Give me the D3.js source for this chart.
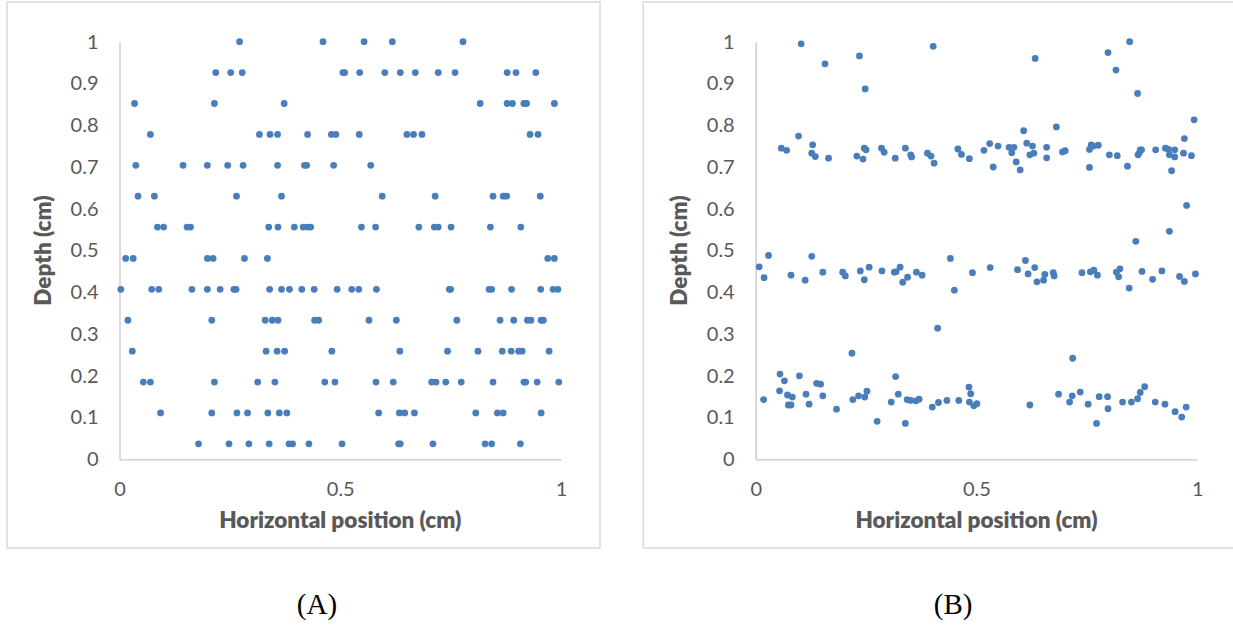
<!DOCTYPE html>
<html>
<head>
<meta charset="utf-8">
<script src="https://cdn.jsdelivr.net/npm/d3@7"></script>
<style>
  html, body { margin: 0; padding: 0; background: #ffffff; }
  svg { display: block; }
  .tick text { font-family: Lato, "Open Sans", sans-serif; font-size: 20px; fill: #595959; }
  .axis-title { font-family: Lato, "Open Sans", sans-serif; font-size: 22.5px; font-weight: 800; fill: #595959; }
  .caption { font-family: "Liberation Serif", "Times New Roman", serif; font-size: 29px; fill: #000; }
</style>
</head>
<body>
<svg id="chart" width="1233" height="626"></svg>
<script>
// ---- Panel A: depth levels and the horizontal positions found at each level ----
const depthLevelsA = [1.000, 0.926, 0.852, 0.778, 0.704, 0.630, 0.556, 0.481, 0.407, 0.333, 0.259, 0.185, 0.111, 0.037];
const positionsA = [
  [0.272, 0.461, 0.554, 0.618, 0.778],
  [0.218, 0.252, 0.278, 0.506, 0.510, 0.544, 0.601, 0.636, 0.670, 0.722, 0.760, 0.878, 0.898, 0.943],
  [0.034, 0.215, 0.373, 0.817, 0.878, 0.890, 0.916, 0.922, 0.985],
  [0.070, 0.317, 0.341, 0.358, 0.426, 0.480, 0.490, 0.543, 0.651, 0.666, 0.685, 0.930, 0.948],
  [0.037, 0.144, 0.199, 0.245, 0.280, 0.358, 0.419, 0.424, 0.485, 0.569],
  [0.042, 0.079, 0.265, 0.367, 0.595, 0.715, 0.846, 0.869, 0.877, 0.953],
  [0.086, 0.100, 0.153, 0.161, 0.338, 0.359, 0.396, 0.416, 0.426, 0.433, 0.548, 0.580, 0.678, 0.713, 0.722, 0.751, 0.840, 0.909],
  [0.014, 0.031, 0.199, 0.212, 0.283, 0.335, 0.970, 0.985],
  [0.003, 0.073, 0.089, 0.164, 0.199, 0.228, 0.259, 0.264, 0.340, 0.367, 0.385, 0.413, 0.441, 0.493, 0.526, 0.542, 0.582, 0.747, 0.750, 0.837, 0.843, 0.888, 0.954, 0.982, 0.993],
  [0.019, 0.209, 0.330, 0.346, 0.359, 0.442, 0.451, 0.565, 0.627, 0.764, 0.862, 0.893, 0.924, 0.932, 0.955, 0.960],
  [0.029, 0.332, 0.357, 0.374, 0.481, 0.635, 0.743, 0.812, 0.867, 0.887, 0.904, 0.912, 0.973],
  [0.054, 0.070, 0.215, 0.313, 0.352, 0.465, 0.488, 0.581, 0.620, 0.707, 0.717, 0.739, 0.774, 0.846, 0.916, 0.920, 0.946, 0.995],
  [0.093, 0.209, 0.266, 0.290, 0.336, 0.362, 0.379, 0.587, 0.634, 0.646, 0.668, 0.807, 0.856, 0.869, 0.955],
  [0.179, 0.248, 0.293, 0.339, 0.384, 0.392, 0.429, 0.504, 0.632, 0.636, 0.710, 0.828, 0.843, 0.908]
];

// ---- Panel B: horizontal position and depth of each point ----
const positionsB = [
  0.103, 0.402, 0.235, 0.157, 0.248,
  0.097, 0.058, 0.070, 0.129, 0.127, 0.135, 0.165, 0.229, 0.243, 0.246, 0.250, 0.285, 0.291, 0.316, 0.339, 0.351, 0.353, 0.389, 0.397, 0.404, 0.458, 0.466, 0.484,
  0.517, 0.530, 0.538, 0.549, 0.574, 0.580, 0.585, 0.590, 0.599, 0.607, 0.614, 0.621, 0.627, 0.630, 0.633, 0.659, 0.659, 0.681, 0.695, 0.701, 0.756, 0.756, 0.760, 0.765, 0.776,
  0.798, 0.801, 0.816, 0.819, 0.842, 0.847, 0.865, 0.866, 0.869, 0.871, 0.874, 0.906, 0.928, 0.935, 0.937, 0.942, 0.949, 0.949, 0.937, 0.969, 0.971, 0.976, 0.987, 0.993, 0.861,
  0.008, 0.029, 0.019, 0.080, 0.112, 0.127, 0.152, 0.197, 0.203, 0.237, 0.246, 0.257, 0.286, 0.314, 0.318, 0.327, 0.333, 0.344, 0.364, 0.377, 0.441, 0.450, 0.491, 0.412, 0.218,
  0.531, 0.593, 0.611, 0.617, 0.632, 0.637, 0.652, 0.655, 0.674, 0.676, 0.739, 0.758, 0.766, 0.774, 0.817, 0.825, 0.822, 0.846, 0.875, 0.899, 0.920, 0.960, 0.971, 0.996, 0.718,
  0.018, 0.055, 0.065, 0.054, 0.072, 0.083, 0.074, 0.080, 0.099, 0.114, 0.121, 0.138, 0.147, 0.152, 0.183, 0.220, 0.233, 0.247, 0.252, 0.275, 0.307, 0.317, 0.323, 0.339,
  0.343, 0.351, 0.363, 0.370, 0.400, 0.414, 0.433, 0.460, 0.483, 0.487, 0.484, 0.494, 0.501,
  0.621, 0.686, 0.711, 0.717, 0.735, 0.753, 0.772, 0.778, 0.797, 0.798, 0.831, 0.851, 0.865, 0.871, 0.881, 0.905, 0.927, 0.950, 0.965, 0.975
];
const depthsB = [
  0.995, 0.989, 0.966, 0.947, 0.887,
  0.774, 0.745, 0.740, 0.753, 0.733, 0.725, 0.721, 0.726, 0.719, 0.745, 0.741, 0.745, 0.735, 0.721, 0.745, 0.729, 0.724, 0.733, 0.726, 0.709, 0.743, 0.730, 0.720,
  0.740, 0.756, 0.700, 0.750, 0.747, 0.734, 0.747, 0.712, 0.693, 0.787, 0.757, 0.729, 0.750, 0.733, 0.960, 0.747, 0.722, 0.796, 0.736, 0.739, 0.742, 0.699, 0.753, 0.750, 0.752,
  0.974, 0.729, 0.932, 0.727, 0.702, 1.000, 0.876, 0.729, 0.734, 0.741, 0.741, 0.741, 0.745, 0.742, 0.729, 0.691, 0.741, 0.724, 0.546, 0.733, 0.768, 0.608, 0.727, 0.813, 0.522,
  0.461, 0.488, 0.435, 0.441, 0.429, 0.486, 0.448, 0.448, 0.439, 0.451, 0.430, 0.460, 0.451, 0.448, 0.449, 0.460, 0.424, 0.436, 0.448, 0.441, 0.481, 0.405, 0.447, 0.314, 0.254,
  0.459, 0.454, 0.476, 0.444, 0.459, 0.425, 0.429, 0.443, 0.447, 0.439, 0.447, 0.449, 0.453, 0.441, 0.448, 0.456, 0.437, 0.410, 0.450, 0.431, 0.451, 0.438, 0.426, 0.444, 0.242,
  0.143, 0.204, 0.188, 0.164, 0.154, 0.149, 0.130, 0.130, 0.200, 0.156, 0.132, 0.182, 0.180, 0.152, 0.120, 0.143, 0.152, 0.149, 0.163, 0.091, 0.137, 0.198, 0.156, 0.086,
  0.143, 0.141, 0.140, 0.144, 0.125, 0.136, 0.141, 0.141, 0.173, 0.157, 0.137, 0.128, 0.133,
  0.130, 0.156, 0.137, 0.152, 0.161, 0.132, 0.086, 0.150, 0.150, 0.121, 0.137, 0.137, 0.145, 0.160, 0.174, 0.137, 0.132, 0.114, 0.101, 0.125
];

const depthTicks = [0, 0.1, 0.2, 0.3, 0.4, 0.5, 0.6, 0.7, 0.8, 0.9, 1];
const positionTicks = [0, 0.5, 1];
const xTitle = "Horizontal position (cm)";
const yTitle = "Depth (cm)";

// Points for each panel as {x, y} records
const pointsA = depthLevelsA.flatMap((d, i) => positionsA[i].map(x => ({ x, y: d })));
const pointsB = positionsB.map((x, i) => ({ x, y: depthsB[i] }));

const svg = d3.select("#chart");
const markerColor = "#4a7ebb";
const axisColor = "#c8c8c8";
const frameColor = "#d9d9d9";

function drawPanel(offsetX, frameWidth, points, caption) {
  const g = svg.append("g").attr("transform", `translate(${offsetX},0)`);

  // chart frame
  g.append("rect")
    .attr("x", 7).attr("y", 2)
    .attr("width", frameWidth).attr("height", 546)
    .attr("fill", "#fff")
    .attr("stroke", frameColor).attr("stroke-width", 1.5);

  const x = d3.scaleLinear().domain([0, 1]).range([119.5, 561]);
  const y = d3.scaleLinear().domain([0, 1]).range([459.3, 41.7]);
  const fmt = d => String(+d.toFixed(1));

  const yAxis = g.append("g")
    .attr("transform", `translate(${x(0)},0)`)
    .call(d3.axisLeft(y).tickValues(depthTicks).tickSize(0).tickPadding(21).tickFormat(fmt));
  yAxis.select(".domain").attr("stroke", axisColor).attr("stroke-width", 1.3);

  const xAxis = g.append("g")
    .attr("transform", `translate(0,${y(0)})`)
    .call(d3.axisBottom(x).tickValues(positionTicks).tickSize(0).tickPadding(23).tickFormat(fmt));
  xAxis.select(".domain").attr("stroke", axisColor).attr("stroke-width", 1.3);

  g.append("g")
    .selectAll("circle")
    .data(points)
    .join("circle")
    .attr("cx", d => x(d.x))
    .attr("cy", d => y(d.y))
    .attr("r", 3.4)
    .attr("fill", markerColor);

  g.append("text")
    .attr("class", "axis-title")
    .attr("x", (x(0) + x(1)) / 2)
    .attr("y", 528)
    .attr("text-anchor", "middle")
    .text(xTitle);

  g.append("text")
    .attr("class", "axis-title")
    .attr("transform", `translate(51,${(y(0) + y(1)) / 2}) rotate(-90)`)
    .attr("text-anchor", "middle")
    .text(yTitle);

  g.append("text")
    .attr("class", "caption")
    .attr("x", 317)
    .attr("y", 614)
    .attr("text-anchor", "middle")
    .text(caption);
}

drawPanel(0, 593, pointsA, "(A)");
drawPanel(636.2, 600, pointsB, "(B)");
</script>
</body>
</html>
